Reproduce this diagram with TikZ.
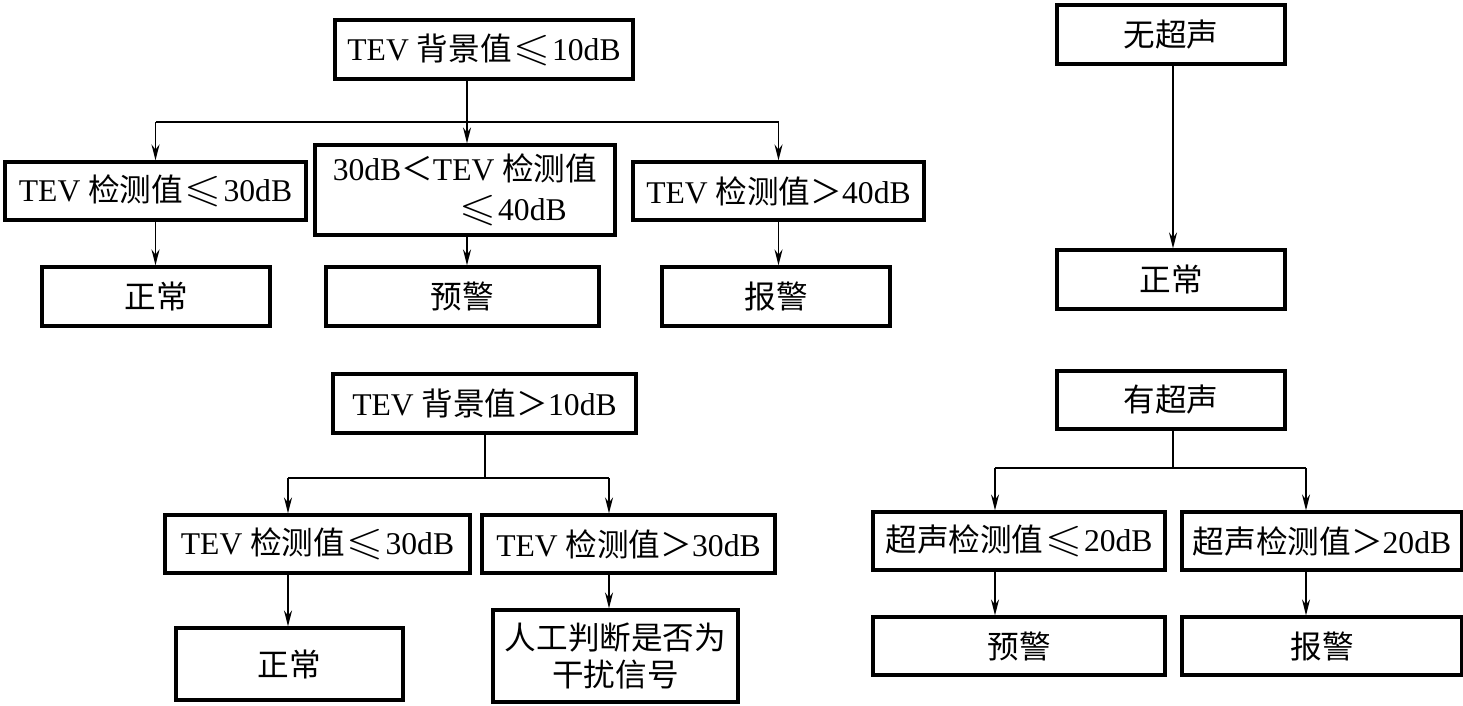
\documentclass[tikz,border=0pt]{standalone}
\usepackage{fontspec}
\usepackage{amssymb}
\usetikzlibrary{arrows.meta}
\setmainfont{Liberation Serif}
\newfontfamily\cjk{Noto Sans CJK SC}
\newcommand{\tevle}{\kern1pt\scalebox{1.5}[1.25]{$\leqslant$}\kern1pt}
\newcommand{\tevgt}{{\cjk ＞}}
\tikzset{every picture/.style={ampersand replacement=\&}}

\begin{document}
\begin{tikzpicture}[x=0.02cm, y=-0.02cm,
    box/.style={draw, line width=1.8pt, inner sep=0pt, align=center,
      font=\fontsize{18}{19.5}\selectfont},
    link/.style={line width=1pt},
    arr/.style={link, -{Stealth[length=3.2mm, width=1.6mm]}}]
  \useasboundingbox (0,0) rectangle (1463,706);
  % TEV background low
  \node[box, minimum width=5.96cm, minimum height=1.18cm] (tb) at (484,49.5) {TEV {\cjk 背景值}\tevle10dB};
  \node[box, minimum width=6.02cm, minimum height=1.16cm] (l1) at (155.5,191) {TEV {\cjk 检测值}\tevle30dB};
  \node[box, minimum width=6.00cm, minimum height=1.80cm, align=left, font=\fontsize{18}{23}\selectfont] (m1) at (465,190) {30dB{\cjk ＜}TEV {\cjk 检测值}\\\hspace*{2.5cm}\tevle40dB};
  \node[box, minimum width=5.82cm, minimum height=1.16cm] (r1) at (778.5,191) {TEV {\cjk 检测值}\tevgt40dB};
  \node[box, minimum width=4.56cm, minimum height=1.18cm] (l2) at (156,296.5) {\cjk 正常};
  \node[box, minimum width=5.46cm, minimum height=1.18cm] (m2) at (462.5,296.5) {\cjk 预警};
  \node[box, minimum width=4.56cm, minimum height=1.18cm] (r2) at (776,296.5) {\cjk 报警};
  % no ultrasound
  \node[box, minimum width=4.56cm, minimum height=1.18cm] (nu) at (1171,34.5) {\cjk 无超声};
  \node[box, minimum width=4.56cm, minimum height=1.18cm] (nn) at (1171,279.5) {\cjk 正常};
  % TEV background high
  \node[box, minimum width=6.06cm, minimum height=1.18cm] (bb) at (484.5,403.5) {TEV {\cjk 背景值}\tevgt10dB};
  \node[box, minimum width=6.10cm, minimum height=1.16cm] (bl1) at (317.5,544) {TEV {\cjk 检测值}\tevle30dB};
  \node[box, minimum width=5.86cm, minimum height=1.16cm] (br1) at (628.5,544) {TEV {\cjk 检测值}\tevgt30dB};
  \node[box, minimum width=4.54cm, minimum height=1.44cm] (bl2) at (289.5,664) {\cjk 正常};
  \node[box, minimum width=4.90cm, minimum height=1.84cm, font=\fontsize{18}{21}\selectfont] (br2) at (615.5,656) {{\cjk 人工判断是否为}\\{\cjk 干扰信号}};
  % ultrasound
  \node[box, minimum width=4.56cm, minimum height=1.16cm] (yu) at (1171,400) {\cjk 有超声};
  \node[box, minimum width=5.84cm, minimum height=1.16cm] (ul1) at (1019,541) {{\cjk 超声检测值}\tevle20dB};
  \node[box, minimum width=5.60cm, minimum height=1.16cm] (ur1) at (1322,541) {{\cjk 超声检测值}\tevgt20dB};
  \node[box, minimum width=5.84cm, minimum height=1.16cm] (ul2) at (1019,646) {\cjk 预警};
  \node[box, minimum width=5.60cm, minimum height=1.16cm] (ur2) at (1322,646) {\cjk 报警};

  \coordinate (bar1) at (467,122);
  \coordinate (bar2) at (485,478);
  \coordinate (bar3) at (1173,468);
  \coordinate (bl) at (288,0);
  \coordinate (br) at (609,0);
  \coordinate (ul) at (995,0);
  \coordinate (ur) at (1306,0);

  \draw[link] (l1.north |- bar1) -- (r1.north |- bar1);
  \draw[arr] (tb.south -| bar1) -- (bar1 |- m1.north);
  \draw[arr] (l1.north |- bar1) -- (l1.north);
  \draw[arr] (r1.north |- bar1) -- (r1.north);
  \draw[arr] (l1.south) -- (l1.south |- l2.north);
  \draw[arr] (m1.south -| bar1) -- (bar1 |- m2.north);
  \draw[arr] (r1.south) -- (r1.south |- r2.north);

  \draw[arr] (nu.south -| bar3) -- (bar3 |- nn.north);

  \draw[link] (bb.south -| bar2) -- (bar2);
  \draw[link] (bl |- bar2) -- (br |- bar2);
  \draw[arr] (bl |- bar2) -- (bl |- bl1.north);
  \draw[arr] (br |- bar2) -- (br |- br1.north);
  \draw[arr] (bl |- bl1.south) -- (bl |- bl2.north);
  \draw[arr] (br |- br1.south) -- (br |- br2.north);

  \draw[link] (yu.south -| bar3) -- (bar3);
  \draw[link] (ul |- bar3) -- (ur |- bar3);
  \draw[arr] (ul |- bar3) -- (ul |- ul1.north);
  \draw[arr] (ur |- bar3) -- (ur |- ur1.north);
  \draw[arr] (ul |- ul1.south) -- (ul |- ul2.north);
  \draw[arr] (ur |- ur1.south) -- (ur |- ur2.north);
\end{tikzpicture}
\end{document}
